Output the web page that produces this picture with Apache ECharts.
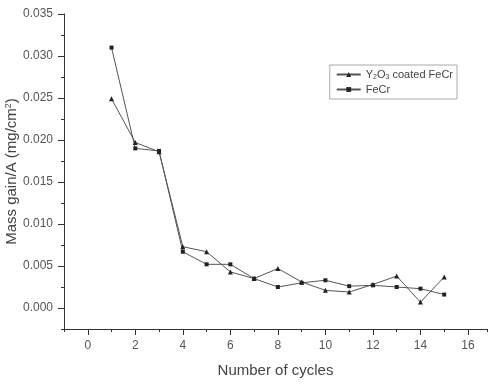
<!DOCTYPE html>
<html>
<head>
<meta charset="utf-8">
<script src="https://cdn.jsdelivr.net/npm/echarts@6/dist/echarts.min.js"></script>
<style>
  html, body { margin: 0; padding: 0; background: #fff; }
  #chart { width: 488px; height: 384px; }
</style>
</head>
<body>
<div id="chart"></div>
<script>
// 数据
const cycles = [1, 2, 3, 4, 5, 6, 7, 8, 9, 10, 11, 12, 13, 14, 15];
const coated = [0.0249, 0.0197, 0.0186, 0.0073, 0.0067, 0.0043, 0.0035, 0.0047, 0.0031, 0.0021, 0.0019, 0.0028, 0.0038, 0.0007, 0.0037];
const fecr = [0.0310, 0.0190, 0.0187, 0.0067, 0.0052, 0.0052, 0.0035, 0.0025, 0.0030, 0.0033, 0.0026, 0.0027, 0.0025, 0.0023, 0.0016];
const xTicks = [0, 2, 4, 6, 8, 10, 12, 14, 16];
const yTicks = [0, 0.005, 0.010, 0.015, 0.020, 0.025, 0.030, 0.035];

(function () {
  let mychart = echarts.init(document.querySelector('#chart'))
  let lineCol = '#555'
  let textCol = '#444'
  let font = 'Liberation Sans, Arial, sans-serif'

  let option = {
    animation: false,
    grid: { left: 64, top: 14, right: 1, bottom: 55, outerBoundsMode: 'none', containLabel: false },
    legend: {
      right: 31,
      top: 65,
      orient: 'vertical',
      itemGap: 3,
      itemWidth: 24,
      itemHeight: 6,
      padding: [4, 4, 4, 6],
      borderColor: '#aaa',
      borderWidth: 1,
      textStyle: {
        fontFamily: font,
        fontSize: 11,
        color: textCol,
        rich: {
          sub: { fontSize: 7, verticalAlign: 'bottom', padding: [6, 0, 0, 0], color: textCol }
        }
      },
      formatter: function (name) {
        if (name === 'Y2O3 coated FeCr') return 'Y{sub|2}O{sub|3} coated FeCr'
        return name
      },
      data: ['Y2O3 coated FeCr', 'FeCr']
    },
    xAxis: [
      {
        type: 'value',
        min: -1,
        max: 16.8,
        name: 'Number of cycles',
        nameLocation: 'middle',
        nameGap: 34,
        nameMoveOverlap: false,
        nameTextStyle: { fontFamily: font, fontSize: 15, color: textCol },
        axisLine: { onZero: false, lineStyle: { color: '#333', width: 1 } },
        axisTick: { customValues: xTicks, length: 6, lineStyle: { color: '#333' } },
        axisLabel: { customValues: xTicks, fontFamily: font, fontSize: 12, color: '#555', margin: 11 },
        splitLine: { show: false }
      },
      {
        type: 'value',
        min: -1,
        max: 16.8,
        interval: 1,
        position: 'bottom',
        axisLine: { show: false, onZero: false },
        axisTick: { length: 3, lineStyle: { color: '#333' } },
        axisLabel: { show: false },
        splitLine: { show: false }
      }
    ],
    yAxis: [
      {
        type: 'value',
        min: -0.0025,
        max: 0.035,
        name: 'Mass gain/A (mg/cm{sup|2})',
        nameLocation: 'middle',
        nameGap: 44,
        nameMoveOverlap: false,
        nameTextStyle: {
          fontFamily: font, fontSize: 15, color: textCol,
          rich: { sup: { fontSize: 9, verticalAlign: 'top', padding: [0, 0, 7, 0], color: textCol } }
        },
        axisLine: { show: true, onZero: false, lineStyle: { color: '#333', width: 1 } },
        axisTick: { show: true, customValues: yTicks, length: 6, lineStyle: { color: '#333' } },
        axisLabel: {
          customValues: yTicks, fontFamily: font, fontSize: 12, color: '#555', margin: 11,
          formatter: function (v) { return v.toFixed(3) }
        },
        splitLine: { show: false }
      },
      {
        type: 'value',
        min: -0.0025,
        max: 0.035,
        interval: 0.0025,
        position: 'left',
        axisLine: { show: false, onZero: false },
        axisTick: { show: true, length: 3, lineStyle: { color: '#333' } },
        axisLabel: { show: false },
        splitLine: { show: false }
      }
    ],
    series: [
      {
        name: 'Y2O3 coated FeCr',
        type: 'line',
        data: cycles.map(function (c, i) { return [c, coated[i]] }),
        symbol: 'triangle',
        symbolSize: 5,
        itemStyle: { color: '#222' },
        lineStyle: { color: lineCol, width: 1 }
      },
      {
        name: 'FeCr',
        type: 'line',
        data: cycles.map(function (c, i) { return [c, fecr[i]] }),
        symbol: 'rect',
        symbolSize: 4,
        itemStyle: { color: '#222' },
        lineStyle: { color: lineCol, width: 1 }
      }
    ]
  }
  mychart.setOption(option)
  window.addEventListener('resize', function () {
    mychart.resize()
  })
})();
</script>
</body>
</html>
